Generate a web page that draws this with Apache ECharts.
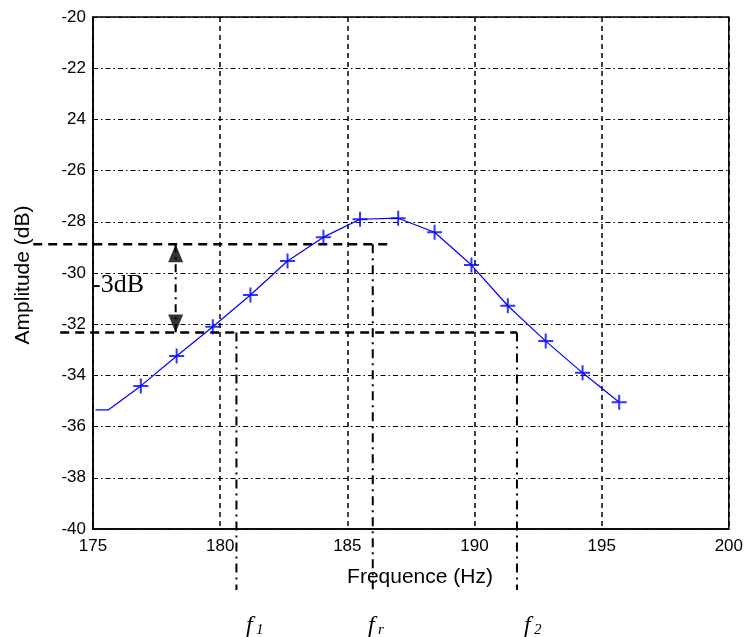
<!DOCTYPE html>
<html>
<head>
<meta charset="utf-8">
<script src="https://cdn.jsdelivr.net/npm/echarts@6/dist/echarts.min.js"></script>
<style>html,body{margin:0;padding:0;background:#fff}#c{width:746px;height:637px}</style>
</head>
<body>
<div id="c"></div>
<script>
// ---- data ----
var curveFreq = [175.1, 175.6, 176.88, 178.29, 179.71, 181.19, 182.65, 184.06, 185.5, 187.0, 188.43, 189.88, 191.31, 192.80, 194.25, 195.69];
var curveAmp  = [-35.35, -35.35, -34.41, -33.24, -32.1, -30.86, -29.53, -28.6, -27.9, -27.86, -28.41, -29.69, -31.28, -32.66, -33.9, -35.05];
var markerFreq = [176.88, 178.29, 179.71, 181.19, 182.65, 184.06, 185.5, 187.0, 188.43, 189.88, 191.31, 192.80, 194.25, 195.69];
var markerAmp  = [-34.41, -33.24, -32.1, -30.86, -29.53, -28.6, -27.9, -27.86, -28.41, -29.69, -31.28, -32.66, -33.9, -35.05];
var xTickLabels = ['175', '180', '185', '190', '195', '200'];
var yTickLabels = ['-40', '-38', '-36', '-34', '-32', '-30', '-28', '-26', '24', '-22', '-20'];
var level3dB = -28.88;
var levelLow = -32.32;
var f1 = 180.64, fr = 186.0, f2 = 191.67;
var topLineStart = 172.65, topLineEnd = 186.72;
var lowLineStart = 173.71;
var guideBottom = -42.38;
var arrowFreq = 178.25;
var freqLabels = [['1', 246], ['r', 368], ['2', 524]];

var xMin = 175, xMax = 200, xInt = 5;
var yMin = -40, yMax = -20, yInt = 2;

var chart = echarts.init(document.getElementById('c'), null, {renderer: 'canvas'});

function zip(a, b) { return a.map(function (v, i) { return [v, b[i]]; }); }

var plusPath = 'path://M0,5L10,5M5,0L5,10';
var dashThick = {stroke: '#000', lineWidth: 2.5, lineDash: [9, 6]};
var dashDot = {stroke: '#000', lineWidth: 2, lineDash: [9, 5, 2, 5]};

var option = {
  animation: false,
  backgroundColor: '#fff',
  grid: {left: 93, right: 15, top: 17, bottom: 108, show: true, borderColor: '#000', borderWidth: 1.5, backgroundColor: 'transparent'},
  xAxis: {
    type: 'value', min: xMin, max: xMax, interval: xInt,
    axisLine: {show: true, lineStyle: {color: '#000', width: 1.5}},
    axisTick: {show: false},
    axisLabel: {color: '#000', fontFamily: 'Liberation Sans', fontSize: 17, margin: 9,
      formatter: function (v) { return xTickLabels[Math.round((v - xMin) / xInt)]; }},
    splitLine: {show: true, lineStyle: {color: '#000', width: 1.5, type: [5, 4]}}
  },
  yAxis: {
    type: 'value', min: yMin, max: yMax, interval: yInt,
    axisLine: {show: true, lineStyle: {color: '#000', width: 1.5}},
    axisTick: {show: false},
    axisLabel: {color: '#000', fontFamily: 'Liberation Sans', fontSize: 17, margin: 7,
      formatter: function (v) { return yTickLabels[Math.round((v - yMin) / yInt)]; }},
    splitLine: {show: true, lineStyle: {color: '#000', width: 1.2, type: [5, 3, 1.5, 3]}}
  },
  series: [
    {type: 'line', data: zip(curveFreq, curveAmp), symbol: 'none', smooth: false,
      lineStyle: {color: '#0000ff', width: 1.2}, z: 5},
    {type: 'scatter', data: zip(markerFreq, markerAmp), symbol: plusPath, symbolSize: 15,
      itemStyle: {color: 'none', borderColor: '#0000ff', borderWidth: 2}, z: 6},
    {type: 'scatter', data: [[arrowFreq, level3dB]], symbol: 'triangle', symbolSize: [15, 18], symbolOffset: [0, 9],
      itemStyle: {color: '#000'}, z: 7},
    {type: 'scatter', data: [[arrowFreq, levelLow]], symbol: 'triangle', symbolSize: [15, 18], symbolRotate: 180, symbolOffset: [0, -9],
      itemStyle: {color: '#000'}, z: 7}
  ]
};
chart.setOption(option);

function px(x, y) { return chart.convertToPixel({gridIndex: 0}, [x, y]); }
function seg(a, b, style) {
  var p = px(a[0], a[1]), q = px(b[0], b[1]);
  return {type: 'line', z: 4, shape: {x1: p[0], y1: p[1], x2: q[0], y2: q[1]}, style: style};
}
function label(item) {
  return [
    {type: 'text', x: item[1], y: 614, style: {text: 'f', font: 'italic 24px "Liberation Serif"', fill: '#000', align: 'left', verticalAlign: 'top'}},
    {type: 'text', x: item[1] + 10, y: 623, style: {text: item[0], font: 'italic 15px "Liberation Serif"', fill: '#000', align: 'left', verticalAlign: 'top'}}
  ];
}
var graphics = [
  seg([topLineStart, level3dB], [topLineEnd, level3dB], dashThick),
  seg([lowLineStart, levelLow], [f2, levelLow], dashThick),
  seg([f1, levelLow], [f1, guideBottom], dashDot),
  seg([fr, level3dB], [fr, guideBottom], dashDot),
  seg([f2, levelLow], [f2, guideBottom], dashDot),
  seg([arrowFreq, level3dB], [arrowFreq, levelLow], {stroke: '#000', lineWidth: 2, lineDash: [8, 5, 2, 5]}),
  {type: 'text', x: 23, y: 275, rotation: Math.PI / 2, style: {text: 'Amplitude (dB)', font: '21px "Liberation Sans"', fill: '#000', align: 'center', verticalAlign: 'middle'}},
  {type: 'text', x: 420, y: 577, style: {text: 'Frequence (Hz)', font: '21px "Liberation Sans"', fill: '#000', align: 'center', verticalAlign: 'middle'}},
  {type: 'text', x: 92, y: 285, style: {text: '-3dB', font: '26px "Liberation Serif"', fill: '#000', align: 'left', verticalAlign: 'middle'}}
];
freqLabels.forEach(function (it) { graphics = graphics.concat(label(it)); });
chart.setOption({graphic: graphics});
</script>
</body>
</html>
